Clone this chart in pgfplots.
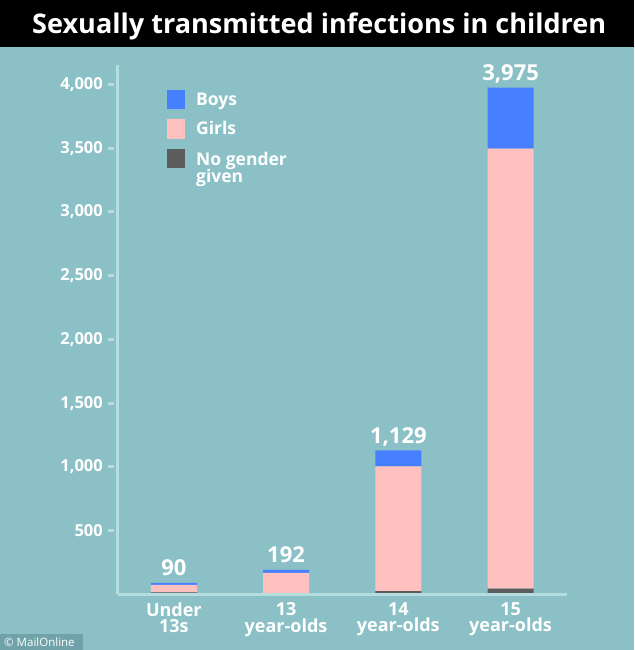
\documentclass[border=0pt]{standalone}
\usepackage{pgfplots}
\pgfplotsset{compat=1.18}
\usetikzlibrary{backgrounds}
\usepackage{fontspec}
\setmainfont{Open Sans}
\definecolor{bgcol}{HTML}{8BC1C6}
\definecolor{axiscol}{HTML}{B4DEE0}
\definecolor{bluecol}{HTML}{4680FF}
\definecolor{pinkcol}{HTML}{FFC0C0}
\definecolor{graycol}{HTML}{5C5C5C}
\definecolor{boxcol}{HTML}{6FA3A9}
\begin{document}
\begin{tikzpicture}[x=1pt,y=1pt]
\begin{axis}[
  scale only axis, width=449pt, height=529pt,
  xmin=-0.5, xmax=3.5, ymin=0, ymax=4150,
  ybar stacked, bar width=46pt,
  axis on top, clip=false,
  axis x line*=bottom, axis y line*=left,
  axis line style={-, line width=3pt, draw=axiscol},
  xtick={0,1,2,3},
  xticklabels={{Under\\13s},{13\\year-olds},{14\\year-olds},{15\\year-olds}},
  xticklabel style={align=center, font=\fontsize{18}{16.3}\selectfont\bfseries, text=white, yshift=-5pt},
  xtick style={draw=none},
  ytick={500,1000,...,4000},
  ytick style={draw=none},
  major tick length=0pt,
  yticklabel style={font=\fontsize{16.5}{18}\selectfont\bfseries, text=white, anchor=east, inner sep=0pt, xshift=-14.7pt},
  scaled y ticks=false,
  /pgf/number format/1000 sep={,},
  /pgf/number format/assume math mode=true,
]
\addplot[fill=graycol, draw=none] coordinates {(0,15) (1,2) (2,25) (3,45)};
\addplot[fill=pinkcol, draw=none] coordinates {(0,58) (1,167) (2,978) (3,3451)};
\addplot[fill=bluecol, draw=none, nodes near coords, point meta=explicit symbolic,
  visualization depends on={\thisrow{y} \as \inc},
  nodes near coords style={font=\fontsize{22}{24}\selectfont\bfseries, text=white, anchor=base, inner sep=0pt, yshift={7pt+0.063735pt*\inc}}]
  table[meta=lab] {
x y lab
0 17 90
1 23 192
2 126 1,129
3 479 3,975
};
\pgfplotsinvokeforeach{500,1000,...,4000}{
  \draw[axiscol, line width=3pt] ([xshift=-10pt]axis cs:-0.5,#1) -- ([xshift=-4pt]axis cs:-0.5,#1);
}
\coordinate (O) at (axis cs:-0.5,0);
\end{axis}
\begin{scope}[shift={(O)}]
\begin{scope}[shift={(-117.7,-55.7)}]
\begin{scope}[on background layer]
\fill[bgcol] (0,0) rectangle (634,650);
\end{scope}
\fill[black] (0,603) rectangle (634,650);
\node[anchor=base west, inner sep=0, text=white] at (32,616.5)
  {\resizebox{574pt}{20.7pt}{\bfseries Sexually transmitted infections in children}};
% legend
\fill[bluecol] (167,541) rectangle (185,560);
\fill[pinkcol] (167,511.3) rectangle (185,530.7);
\fill[graycol] (167,481.7) rectangle (185,500.7);
\node[anchor=base west, inner sep=0, text=white, font=\fontsize{17.5}{14.5}\selectfont\bfseries] at (196,544.3) {Boys};
\node[anchor=base west, inner sep=0, text=white, font=\fontsize{17.5}{14.5}\selectfont\bfseries] at (196,515) {Girls};
\node[anchor=base west, inner sep=0, text=white, font=\fontsize{17.5}{14.5}\selectfont\bfseries] at (196,484) {No gender};
\node[anchor=base west, inner sep=0, text=white, font=\fontsize{17.5}{14.5}\selectfont\bfseries] at (196,467.5) {given};
% credit
\fill[boxcol] (0,0) rectangle (83,16);
\node[anchor=base west, inner sep=0, text=white, font=\fontsize{11.5}{13}\selectfont] at (4,4) {© MailOnline};
\end{scope}
\end{scope}
\end{tikzpicture}
\end{document}
